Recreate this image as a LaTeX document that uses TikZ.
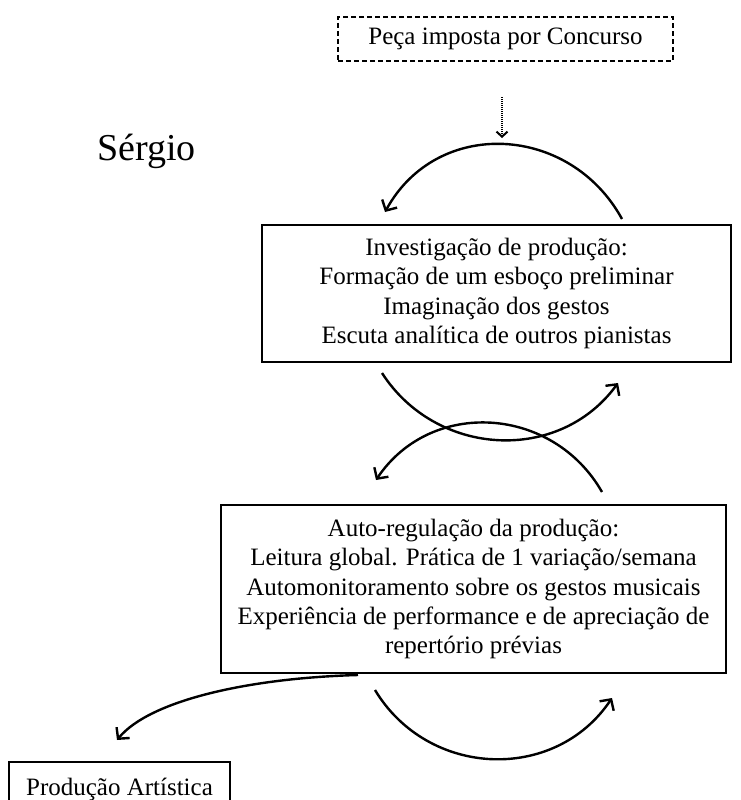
\documentclass[tikz,border=0pt]{standalone}
\usepackage{fontspec}
\setmainfont{Liberation Serif}
\usetikzlibrary{arrows.meta}
\begin{document}
\begin{tikzpicture}[x=1pt,y=-1pt,
  txt/.style={font=\fontsize{25}{29.3}\selectfont, align=center, inner sep=0pt},
  plainbox/.style={txt, draw, line width=1.3pt},
  dashbox/.style={txt, draw, line width=1.6pt, dash pattern=on 5pt off 3pt},
  loopline/.style={line width=2.4pt, -{Straight Barb[length=8pt,width=17pt]}},
  dotline/.style={line width=2pt, dash pattern=on 1pt off 1pt, -{Straight Barb[length=5pt,width=11pt]}}
]
\useasboundingbox (0,0) rectangle (740,800);

% nodes
\node[dashbox, minimum width=335pt, minimum height=44pt] (concurso) at (505.5,39) {Peça imposta por Concurso};
\node[font=\fontsize{38}{44}\selectfont, anchor=base west, inner sep=0pt] (sergio) at (97,160) {Sérgio};
\node[plainbox, minimum width=469pt, minimum height=137pt] (invest) at (496.5,293.5)
  {Investigação de produção:\\Formação de um esboço preliminar\\Imaginação dos gestos\\Escuta analítica de outros pianistas};
\node[plainbox, minimum width=505pt, minimum height=168pt] (auto) at (473.5,589)
  {Auto-regulação da produção:\\Leitura global. Prática de 1 variação/semana\\Automonitoramento sobre os gestos musicais\\Experiência de performance e de apreciação de\\repertório prévias};
\node[plainbox, minimum width=221pt, minimum height=54pt] (prod) at (119.5,789) {Produção Artística};

% endpoints
\coordinate (dA) at (502,97);
\coordinate (dB) at (502,138);
\coordinate (a1s) at (622,219);
\coordinate (a1e) at (385,212);
\coordinate (a2s) at (382,373);
\coordinate (a2e) at (618,383);
\coordinate (a3s) at (602,492);
\coordinate (a3e) at (376,480);
\coordinate (a4s) at (375,690);
\coordinate (a4e) at (612,698);
\coordinate (a5s) at (358,675);
\coordinate (a5e) at (117,740);

% connectors
\draw[dotline] (dA) -- (dB);
\draw[loopline] (a1s) .. controls (570,124) and (437,117) .. (a1e);
\draw[loopline] (a2s) .. controls (436,457) and (559,464) .. (a2e);
\draw[loopline] (a3s) .. controls (553,406) and (431,398) .. (a3e);
\draw[loopline] (a4s) .. controls (428,778) and (555,783) .. (a4e);
\draw[loopline] (a5s) .. controls (250,678) and (150,700) .. (a5e);
\end{tikzpicture}
\end{document}
